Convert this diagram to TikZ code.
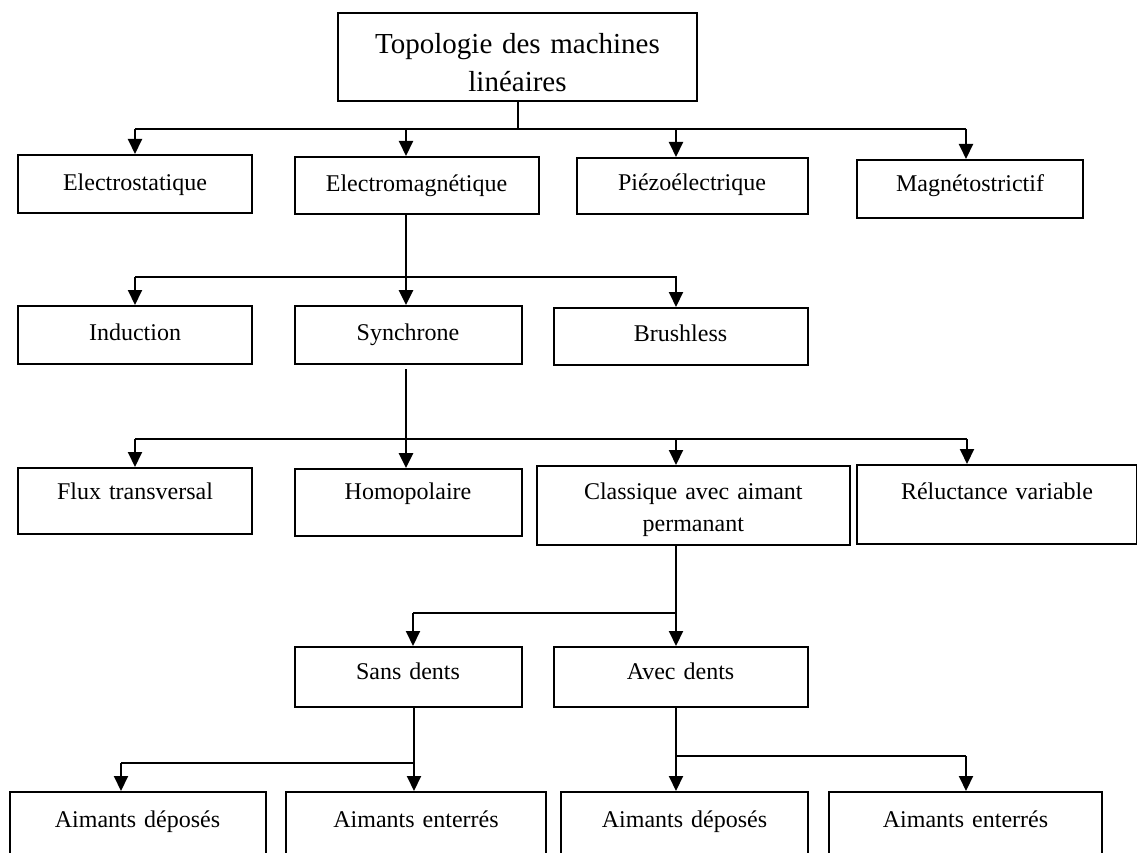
\documentclass[tikz,border=0pt]{standalone}
\usepackage{fontspec}
\setmainfont{Liberation Serif}
\usetikzlibrary{arrows.meta}

\tikzset{
	boite/.style={draw,line width=2pt,inner sep=0pt,anchor=north west,align=center,font=\fontsize{24}{32}\selectfont},
	trait/.style={line width=2pt},
	epais/.style={line width=2.8pt},
	fleche/.style={-{Triangle[width=14pt,length=15pt]}},
}

\begin{document}
\begin{tikzpicture}[x=1pt,y=-1pt]
	\useasboundingbox (0,0) rectangle (1137,853);
	\clip (0,0) rectangle (1137,853);
	\node[boite,font=\fontsize{29}{38}\selectfont,text width=359pt,text height=41pt,text depth=47pt] (0) at (337,12) {Topologie des machines\\linéaires};
	\node[boite,text width=234pt,text height=36pt,text depth=22pt] (1) at (17,154) {Electrostatique};
	\node[boite,text width=244pt,text height=35pt,text depth=22pt] (2) at (293.5,156) {Electromagnétique};
	\node[boite,text width=231pt,text height=33pt,text depth=23pt] (3) at (575.5,157) {Piézoélectrique};
	\node[boite,text width=226pt,text height=32pt,text depth=26pt] (4) at (856,159) {Magnétostrictif};
	\node[boite,text width=234pt,text height=34pt,text depth=24pt] (5) at (17,305) {Induction};
	\node[boite,text width=227pt,text height=34pt,text depth=24pt] (6) at (293.5,305) {Synchrone};
	\node[boite,text width=254pt,text height=33pt,text depth=24pt] (7) at (552.5,307) {Brushless};
	\node[boite,text width=234pt,text height=31pt,text depth=35pt] (8) at (17,467) {Flux transversal};
	\node[boite,text width=227pt,text height=30pt,text depth=37pt] (9) at (293.5,468) {Homopolaire};
	\node[boite,text width=313pt,text height=33pt,text depth=46pt] (10) at (535.8,465) {Classique avec aimant\\permanant};
	\node[boite,text width=280pt,text height=34pt,text depth=45pt] (11) at (856,464) {Réluctance variable};
	\node[boite,text width=227pt,text height=32pt,text depth=28pt] (12) at (293.5,646) {Sans dents};
	\node[boite,text width=254pt,text height=32pt,text depth=28pt] (13) at (552.5,646) {Avec dents};
	\node[boite,text width=256pt,text height=35pt,text depth=60pt] (14) at (8.5,791) {Aimants déposés};
	\node[boite,text width=260pt,text height=35pt,text depth=60pt] (15) at (285,791) {Aimants enterrés};
	\node[boite,text width=247pt,text height=35pt,text depth=60pt] (16) at (560,791) {Aimants déposés};
	\node[boite,text width=273pt,text height=35pt,text depth=60pt] (17) at (828,791) {Aimants enterrés};
	\draw[trait] (0.south) -- (0.south |- 0,129);
	\draw[trait] (135,129) -- (966,129);
	\foreach \n/\x in {1/135,2/406,3/676,4/966}
		\draw[trait,fleche] (\x,129) -- (\x,0 |- \n.north);
	\draw[epais,fleche] (2.south -| 406,0) -- (406,0 |- 6.north);
	\draw[trait] (135,277) -- (677,277);
	\foreach \n/\x in {5/135,7/676}
		\draw[trait,fleche] (\x,277) -- (\x,0 |- \n.north);
	\draw[epais,fleche,shorten <=4pt] (6.south -| 406,0) -- (406,0 |- 9.north);
	\draw[trait] (135,439) -- (967,439);
	\foreach \n/\x in {8/135,10/676,11/967}
		\draw[trait,fleche] (\x,439) -- (\x,0 |- \n.north);
	\draw[trait,fleche] (10.south -| 676,0) -- (676,0 |- 13.north);
	\draw[trait] (413,613) -- (676,613);
	\draw[trait,fleche] (413,613) -- (413,0 |- 12.north);
	\draw[trait,fleche] (12.south -| 414,0) -- (414,0 |- 15.north);
	\draw[trait] (121,763) -- (414,763);
	\draw[trait,fleche] (121,763) -- (121,0 |- 14.north);
	\draw[trait,fleche] (13.south -| 676,0) -- (676,0 |- 16.north);
	\draw[trait] (676,756) -- (966,756);
	\draw[trait,fleche] (966,756) -- (966,0 |- 17.north);
\end{tikzpicture}
\end{document}
